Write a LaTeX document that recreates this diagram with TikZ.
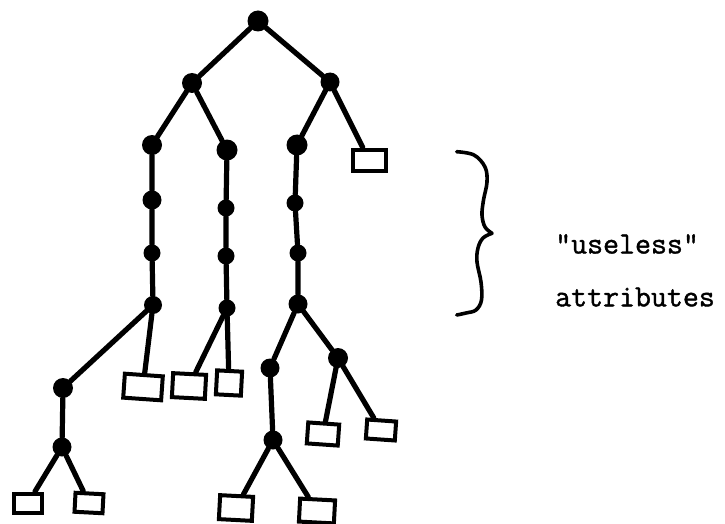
\documentclass[tikz,border=0pt]{standalone}
\usepackage{fontspec}
\newfontfamily\tw{Latin Modern Mono}[FakeBold=1.2]
\begin{document}
\begin{tikzpicture}[x=1pt,y=-1pt,
  dot/.style={circle,fill=black,draw=none,inner sep=0pt,minimum size=#1},
  dot/.default=18pt,
  leaf/.style={draw=black,line width=4pt,rectangle,inner sep=0pt,fill=white},
  edge/.style={line width=5.2pt,line cap=round},
  lbl/.style={font=\tw\fontsize{31}{34}\selectfont,anchor=west,inner sep=0pt}]
\fill[white] (0,0) rectangle (725,524);
\useasboundingbox (0,0) rectangle (725,524);
% dots
\node[dot=21pt] (root) at (258,21) {};
\node[dot=20pt] (L) at (192,83) {};
\node[dot=19pt] (R) at (330,82) {};
\node[dot=20pt] (A) at (152,145) {};
\node[dot=19pt] (A2) at (152,200) {};
\node[dot=17pt] (A3) at (152,253) {};
\node[dot=18pt] (A4) at (153,305) {};
\node[dot=21pt] (B) at (227,150) {};
\node[dot=17pt] (B2) at (226,208) {};
\node[dot=17pt] (B3) at (226,256) {};
\node[dot=17pt] (B4) at (227,308) {};
\node[dot=21pt] (C) at (297,145) {};
\node[dot=17pt] (C2) at (295,203) {};
\node[dot=17pt] (C3) at (298,253) {};
\node[dot=19pt] (C4) at (298,304) {};
\node[dot=20pt] (E) at (63,388) {};
\node[dot=19pt] (F) at (62,447) {};
\node[dot=19pt] (G) at (270,368) {};
\node[dot=20pt] (H) at (338,358) {};
\node[dot=19pt] (I) at (273,440) {};
% leaves
\node[leaf,minimum width=33pt,minimum height=21pt] (rD) at (369,160) {};
\node[leaf,minimum width=38pt,minimum height=24pt,rotate=-4] (rA) at (143,387) {};
\node[leaf,minimum width=28pt,minimum height=19pt] (rF1) at (28,503) {};
\node[leaf,minimum width=28pt,minimum height=19pt,rotate=-3] (rF2) at (89,503) {};
\node[leaf,minimum width=33pt,minimum height=24pt,rotate=-3] (rB1) at (189,386) {};
\node[leaf,minimum width=25pt,minimum height=24pt,rotate=-3] (rB2) at (229,383) {};
\node[leaf,minimum width=31pt,minimum height=21pt,rotate=-4] (rH1) at (323,434) {};
\node[leaf,minimum width=29pt,minimum height=19pt,rotate=-4] (rH2) at (381,430) {};
\node[leaf,minimum width=33pt,minimum height=24pt,rotate=-3] (rI1) at (236,508) {};
\node[leaf,minimum width=35pt,minimum height=23pt,rotate=-3] (rI2) at (317,511) {};
% edges
\draw[edge] (root) -- (L);
\draw[edge] (root) -- (R);
\draw[edge] (L) -- (A);
\draw[edge] (L) -- (B);
\draw[edge] (R) -- (C);
\draw[edge] (R) -- (rD);
\draw[edge] (A) -- (A2) -- (A3) -- (A4);
\draw[edge] (B) -- (B2) -- (B3) -- (B4);
\draw[edge] (C) -- (C2) -- (C3) -- (C4);
\draw[edge] (A4) -- (E);
\draw[edge] (A4) -- (rA);
\draw[edge] (E) -- (F);
\draw[edge] (F) -- (rF1);
\draw[edge] (F) -- (rF2);
\draw[edge] (B4) -- (rB1);
\draw[edge] (B4) -- (rB2);
\draw[edge] (C4) -- (G);
\draw[edge] (C4) -- (H);
\draw[edge] (G) -- (I);
\draw[edge] (I) -- (rI1);
\draw[edge] (I) -- (rI2);
\draw[edge] (H) -- (rH1);
\draw[edge] (H) -- (rH2);
% brace
\draw[line width=3.6pt,line cap=round,line join=round]
  plot[smooth,tension=0.6] coordinates {(456.7,151.7) (474,155) (485,167) (487,182) (483.5,200) (482,215) (485,227) (492,233.3)};
\draw[line width=3.6pt,line cap=round,line join=round]
  plot[smooth,tension=0.6] coordinates {(492,233.3) (483,238) (478,248) (477,262) (481,282) (481.5,300) (476,310) (466,313) (456.7,315)};
% labels
\node[lbl] (t1) at (555,244) {“useless”};
\node[lbl] (t2) at (555,297) {attributes};
\end{tikzpicture}
\end{document}
